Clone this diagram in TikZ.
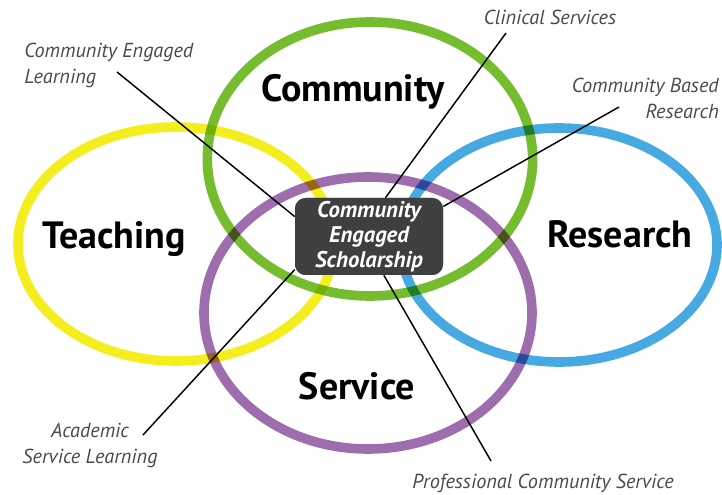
\documentclass[tikz,border=0pt]{standalone}
\usepackage{fontspec}
\setmainfont{PT Sans}
\definecolor{ringyellow}{HTML}{F5EE1F}
\definecolor{ringgreen}{HTML}{76BC2F}
\definecolor{ringblue}{HTML}{47A9E1}
\definecolor{ringpurple}{HTML}{9D6DAE}
\definecolor{hubgrey}{HTML}{3F3F3F}
\definecolor{notegrey}{HTML}{4A4A4A}
\tikzset{
  ring/.style={line width=7.2pt},
  area/.style={font=\fontsize{28.5}{30}\selectfont\bfseries, text=black, inner sep=0pt, anchor=base},
  note/.style={font=\fontsize{15.2}{19.5}\selectfont\itshape, text=notegrey, inner sep=0pt},
  hub/.style={rounded corners=8pt, fill=hubgrey, text=white, minimum width=111pt, minimum height=57.75pt,
    inner sep=0pt, align=center, font=\fontsize{17}{18.75}\selectfont\bfseries\itshape},
  leader/.style={line width=1.1pt, black}
}
\begin{document}
\begin{tikzpicture}[x=0.75pt,y=-0.75pt]
\useasboundingbox (0,0) rectangle (722,495);
% overlapping rings, darkened where they cross
\begin{scope}[blend group=multiply]
  \draw[ring, ringyellow] (176,244) ellipse [x radius=118.5pt, y radius=87.75pt];
  \draw[ring, ringgreen]  (370,159) ellipse [x radius=122pt, y radius=102.75pt];
  \draw[ring, ringblue]   (559,245) ellipse [x radius=118.5pt, y radius=87.75pt];
  \draw[ring, ringpurple] (368,313) ellipse [x radius=123pt, y radius=102pt];
\end{scope}
% ring titles
\node[area] (community) at (353,102) {Community};
\node[area] (teaching)  at (114,249) {Teaching};
\node[area] (research)  at (620,248) {Research};
\node[area] (service)   at (357,400) {Service};
% side notes
\node[note, anchor=west, align=left] (cel) at (24,65) {Community Engaged\\Learning};
\node[note] (clin) at (550,17) {Clinical Services};
\node[note, anchor=east, align=right] (cbr) at (719,98) {Community Based\\Research};
\node[note, align=center] (asl) at (90,445) {Academic\\Service Learning};
\node[note] (pcs) at (543,483) {Professional Community Service};
% where the leaders start
\coordinate (celend) at (117,72);
\coordinate (clinend) at (506,33);
\coordinate (cbrend) at (619,107);
\coordinate (aslend) at (143,435);
\coordinate (pcsend) at (491,461);
% central box (placed first so the leaders can aim at its border)
\node[hub] (hubbox) at (369,236.5) {Community\\Engaged\\Scholarship};
% leaders
\draw[leader] (celend) -- (hubbox.165);
\draw[leader] (clinend) -- (hubbox.67);
\draw[leader] (cbrend) -- (hubbox.22);
\draw[leader] (aslend) -- (hubbox.204);
\draw[leader] (pcsend) -- (hubbox.291);
% box again, on top of the leader ends
\node[hub] (hubtop) at (hubbox.center) {Community\\Engaged\\Scholarship};
\end{tikzpicture}
\end{document}
